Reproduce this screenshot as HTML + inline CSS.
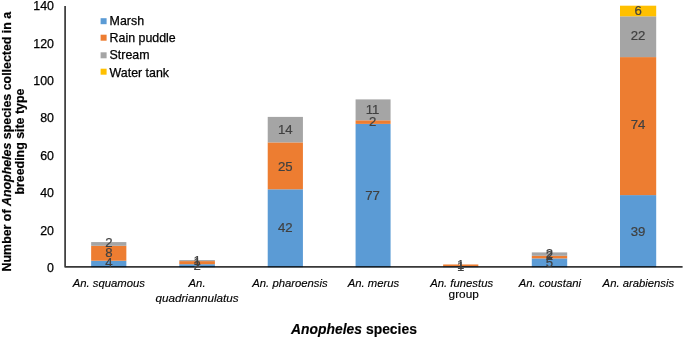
<!DOCTYPE html>
<html lang="en">
<head>
<meta charset="utf-8">
<title>Anopheles species by breeding site type</title>
<style>
html,body{margin:0;padding:0;background:#fff;}
body{width:685px;height:339px;overflow:hidden;}
svg{display:block;filter:blur(0.4px);}
text{font-family:"Liberation Sans",sans-serif;}
.tick{font-size:12.4px;fill:#000;text-anchor:end;stroke:#000;stroke-width:0.25px;}
.leg{font-size:12.4px;fill:#000;stroke:#000;stroke-width:0.25px;}
.dl{font-size:13.2px;fill:#404040;text-anchor:middle;stroke:#404040;stroke-width:0.2px;}
.cat{font-size:11.3px;fill:#000;text-anchor:middle;font-style:italic;stroke:#000;stroke-width:0.15px;}
.catn{font-size:11.8px;fill:#000;text-anchor:middle;stroke:#000;stroke-width:0.15px;}
.yt{font-size:12.4px;font-weight:bold;fill:#000;text-anchor:middle;stroke:#000;stroke-width:0.2px;}
.xt{font-size:13.9px;font-weight:bold;fill:#000;text-anchor:middle;stroke:#000;stroke-width:0.15px;}
</style>
</head>
<body>
<svg width="685" height="339" viewBox="0 0 685 339">
<rect x="0" y="0" width="685" height="339" fill="#ffffff"/>

<g>
<rect x="91.15" y="260.73" width="35.20" height="6.47" fill="#5b9bd5"/>
<rect x="91.15" y="245.80" width="35.20" height="14.93" fill="#ed7d31"/>
<rect x="91.15" y="242.07" width="35.20" height="3.73" fill="#a5a5a5"/>
<rect x="179.31" y="264.20" width="35.60" height="3.00" fill="#5b9bd5"/>
<rect x="179.31" y="261.10" width="35.60" height="3.10" fill="#ed7d31"/>
<rect x="179.31" y="260.10" width="35.60" height="1.00" fill="#a5a5a5"/>
<rect x="267.72" y="189.30" width="35.20" height="77.90" fill="#5b9bd5"/>
<rect x="267.72" y="142.40" width="35.20" height="46.90" fill="#ed7d31"/>
<rect x="267.72" y="116.90" width="35.20" height="25.50" fill="#a5a5a5"/>
<rect x="355.58" y="123.90" width="35.00" height="143.30" fill="#5b9bd5"/>
<rect x="355.58" y="120.30" width="35.00" height="3.60" fill="#ed7d31"/>
<rect x="355.58" y="99.40" width="35.00" height="20.90" fill="#a5a5a5"/>
<rect x="443.13" y="266.33" width="35.20" height="0.87" fill="#5b9bd5"/>
<rect x="443.13" y="264.47" width="35.20" height="1.87" fill="#ed7d31"/>
<rect x="531.79" y="258.40" width="35.40" height="8.80" fill="#5b9bd5"/>
<rect x="531.79" y="255.80" width="35.40" height="2.60" fill="#ed7d31"/>
<rect x="531.79" y="252.40" width="35.40" height="3.40" fill="#a5a5a5"/>
<rect x="620.00" y="195.10" width="36.20" height="72.10" fill="#5b9bd5"/>
<rect x="620.00" y="57.10" width="36.20" height="138.00" fill="#ed7d31"/>
<rect x="620.00" y="16.30" width="36.20" height="40.80" fill="#a5a5a5"/>
<rect x="620.00" y="5.70" width="36.20" height="10.60" fill="#ffc000"/>
</g>
<polyline points="65.1,6.10 65.1,266.85 682.6,266.85" fill="none" stroke="#000000" stroke-opacity="0.78" stroke-width="1.7" stroke-linejoin="round"/>
<g>
<text class="dl" x="108.85" y="267.16">4</text>
<text class="dl" x="108.85" y="257.33">8</text>
<text class="dl" x="108.85" y="247.28">2</text>
<text class="dl" x="197.06" y="269.73">2</text>
<text class="dl" x="197.06" y="266.92">1</text>
<text class="dl" x="197.06" y="265.05">1</text>
<text class="dl" x="285.27" y="232.31">42</text>
<text class="dl" x="285.27" y="170.55">25</text>
<text class="dl" x="285.27" y="133.57">14</text>
<text class="dl" x="372.62" y="199.58">77</text>
<text class="dl" x="372.62" y="125.68">2</text>
<text class="dl" x="372.62" y="113.52">11</text>
<text class="dl" x="460.78" y="270.66">1</text>
<text class="dl" x="460.78" y="268.79">1</text>
<text class="dl" x="549.49" y="266.92">5</text>
<text class="dl" x="549.49" y="260.38">2</text>
<text class="dl" x="549.49" y="257.53">2</text>
<text class="dl" x="638.10" y="235.72">39</text>
<text class="dl" x="638.10" y="129.43">74</text>
<text class="dl" x="638.10" y="40.23">22</text>
<text class="dl" x="638.10" y="14.74">6</text>
</g>
<text class="tick" x="54.0" y="272.00">0</text>
<text class="tick" x="54.0" y="234.59">20</text>
<text class="tick" x="54.0" y="197.17">40</text>
<text class="tick" x="54.0" y="159.76">60</text>
<text class="tick" x="54.0" y="122.34">80</text>
<text class="tick" x="54.0" y="84.93">100</text>
<text class="tick" x="54.0" y="47.51">120</text>
<text class="tick" x="54.0" y="10.10">140</text>
<rect x="100.6" y="18.20" width="6" height="6" fill="#5b9bd5"/>
<text class="leg" x="109.6" y="25.00">Marsh</text>
<rect x="100.6" y="34.70" width="6" height="6" fill="#ed7d31"/>
<text class="leg" x="109.6" y="41.90">Rain puddle</text>
<rect x="100.6" y="52.30" width="6" height="6" fill="#a5a5a5"/>
<text class="leg" x="109.6" y="58.90">Stream</text>
<rect x="100.6" y="68.70" width="6" height="6" fill="#ffc000"/>
<text class="leg" x="109.6" y="76.50">Water tank</text>
<text class="cat" x="108.85" y="287.4">An. squamous</text>
<text class="cat" x="197.06" y="287.4">An.</text>
<text class="cat" style="font-size:11.7px" x="197.06" y="301.6">quadriannulatus</text>
<text class="cat" x="289.97" y="287.4">An. pharoensis</text>
<text class="cat" x="373.48" y="287.4">An. merus</text>
<text class="cat" x="461.68" y="287.4">An. funestus</text>
<text class="catn" x="463.7" y="297.6">group</text>
<text class="cat" x="549.89" y="287.4">An. coustani</text>
<text class="cat" x="638.40" y="287.4">An. arabiensis</text>
<g transform="translate(11.2,141.6) rotate(-90)">
<text class="yt" x="0" y="0">Number of <tspan font-style="italic">Anopheles</tspan> species collected in a</text>
<text class="yt" x="0" y="13.2">breeding site type</text>
</g>
<text class="xt" x="354" y="333.8"><tspan font-style="italic">Anopheles</tspan> species</text>
</svg>
</body>
</html>
